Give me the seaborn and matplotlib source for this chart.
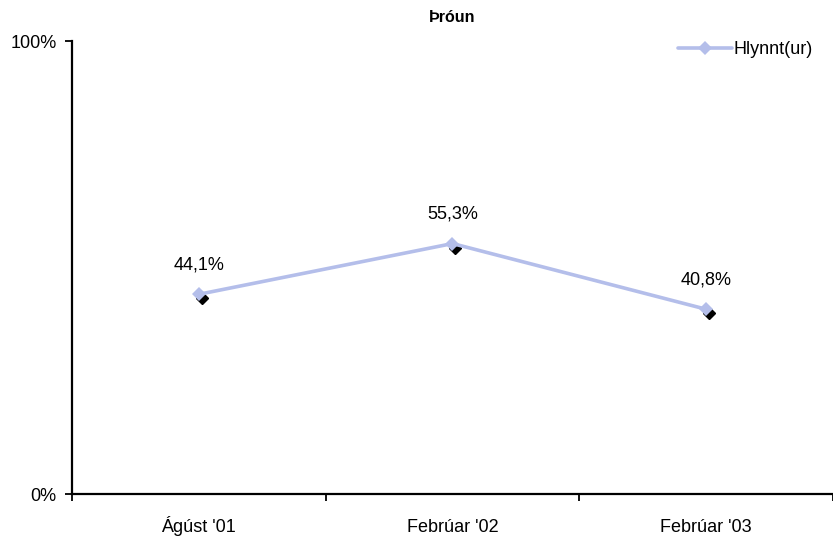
import matplotlib as mpl
import matplotlib.pyplot as plt
import matplotlib.transforms as mtransforms
import seaborn as sns
import pandas as pd

periods = ["Ágúst '01", "Febrúar '02", "Febrúar '03"]
hlynnt = [44.1, 55.3, 40.8]
labels = ["44,1%", "55,3%", "40,8%"]

sns.set_style("white")
plt.rcParams['font.family'] = ['Liberation Sans Narrow', 'Liberation Sans', 'DejaVu Sans']
plt.rcParams['text.color'] = 'black'
plt.rcParams['xtick.labelcolor'] = 'black'
plt.rcParams['ytick.labelcolor'] = 'black'

df = pd.DataFrame({'period': periods, 'value': hlynnt, 'x': range(len(periods))})
line_col = '#B4BEEA'

f, ax = plt.subplots(figsize=(8.33, 5.4), dpi=100)
plt.subplots_adjust(left=0.0864, right=1.0, bottom=0.085, top=0.924)

# black shadow diamonds, offset down-right
shadow = mtransforms.offset_copy(ax.transData, fig=f, x=3, y=-4, units='dots')
ax.plot(df['x'], df['value'], linestyle='none', marker='D', markersize=6.5,
        color='black', transform=shadow, zorder=2)

sns.lineplot(data=df, x='x', y='value', ax=ax, color=line_col, linewidth=2.6,
             marker='D', markersize=7.5, markeredgewidth=0, label='Hlynnt(ur)', zorder=3)

for xi, v, lab in zip(df['x'], df['value'], labels):
    ax.annotate(lab, (xi, v), xytext=(0, 15), textcoords='offset points',
                ha='center', va='bottom', fontsize=13, color='black')

ax.set_xlim(-0.5, 2.5)
ax.set_ylim(0, 100)
ax.set_yticks([0, 100])
ax.set_yticklabels(['0%', '100%'], fontsize=13)
ax.set_xticks([-0.5, 0.5, 1.5, 2.5])
ax.set_xticklabels([])
ax.set_xticks([0, 1, 2], minor=True)
ax.set_xticklabels(periods, minor=True, fontsize=13, va='baseline')
ax.tick_params(axis='x', which='major', bottom=True, direction='out', length=5, width=1.3, color='black')
ax.tick_params(axis='x', which='minor', bottom=True, length=0, pad=27, labelcolor='black')
ax.tick_params(axis='y', left=True, direction='out', length=5, width=1.3, color='black', pad=6,
               labelcolor='black')
ax.set_xlabel('')
ax.set_ylabel('')

for s in ['top', 'right']:
    ax.spines[s].set_visible(False)
for s in ['left', 'bottom']:
    ax.spines[s].set_color('black')
    ax.spines[s].set_linewidth(1.6)

ax.set_title('Þróun', fontsize=11.5, fontweight='bold', pad=14, color='black',
             family=['Liberation Sans', 'DejaVu Sans'])

leg = ax.legend(loc='upper right', frameon=False, fontsize=13, handlelength=3.0,
                handletextpad=0.1, bbox_to_anchor=(0.995, 1.035))
for t in leg.get_texts():
    t.set_color('black')

plt.savefig('out.png', dpi=100)
